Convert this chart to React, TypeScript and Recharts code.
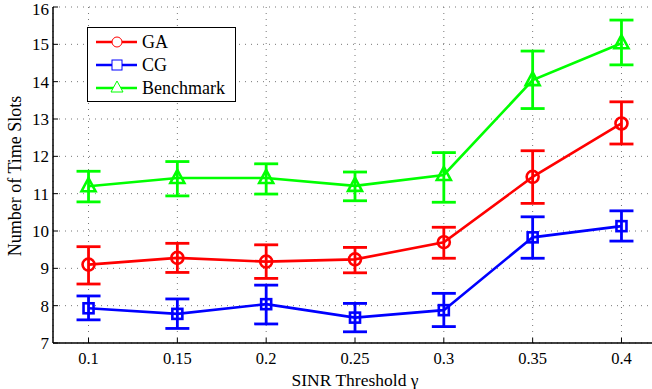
import * as React from "react";
import { CartesianGrid, ComposedChart, ErrorBar, Line, XAxis, YAxis } from "recharts";

const thresholds = [0.1, 0.15, 0.2, 0.25, 0.3, 0.35, 0.4];

const gaMean = [9.1, 9.28, 9.18, 9.24, 9.7, 11.45, 12.88];
const gaLow = [8.58, 8.89, 8.73, 8.88, 9.27, 10.74, 12.33];
const gaHigh = [9.58, 9.67, 9.63, 9.56, 10.1, 12.15, 13.46];

const cgMean = [7.93, 7.78, 8.04, 7.68, 7.88, 9.83, 10.13];
const cgLow = [7.62, 7.39, 7.51, 7.3, 7.44, 9.27, 9.73];
const cgHigh = [8.26, 8.18, 8.55, 8.06, 8.33, 10.38, 10.54];

const bmMean = [11.2, 11.42, 11.42, 11.21, 11.5, 14.04, 15.03];
const bmLow = [10.78, 10.94, 10.99, 10.81, 10.77, 13.28, 14.45];
const bmHigh = [11.6, 11.86, 11.8, 11.58, 12.1, 14.82, 15.65];

const xTicks = [0.1, 0.15, 0.2, 0.25, 0.3, 0.35, 0.4];
const yTicks = [7, 8, 9, 10, 11, 12, 13, 14, 15, 16];

const RED = "#ff0000";
const BLUE = "#0000ff";
const GREEN = "#00ff00";
const FONT = "Liberation Serif, Times New Roman, serif";

const chartData = thresholds.map((x, i) => ({
  x,
  ga: gaMean[i],
  gaErr: [gaMean[i] - gaLow[i], gaHigh[i] - gaMean[i]],
  cg: cgMean[i],
  cgErr: [cgMean[i] - cgLow[i], cgHigh[i] - cgMean[i]],
  bm: bmMean[i],
  bmErr: [bmMean[i] - bmLow[i], bmHigh[i] - bmMean[i]],
}));

type DotProps = { cx?: number; cy?: number; index?: number };

function CircleDot({ cx, cy, index }: DotProps) {
  if (cx == null || cy == null) return null;
  return <circle key={index} cx={cx} cy={cy} r={6} fill="none" stroke={RED} strokeWidth={2.6} />;
}

function SquareDot({ cx, cy, index }: DotProps) {
  if (cx == null || cy == null) return null;
  return (
    <rect key={index} x={cx - 5} y={cy - 5} width={10} height={10} fill="none" stroke={BLUE} strokeWidth={2.6} />
  );
}

function TriangleDot({ cx, cy, index }: DotProps) {
  if (cx == null || cy == null) return null;
  return (
    <polygon
      key={index}
      points={`${cx},${cy - 8} ${cx - 7},${cy + 5} ${cx + 7},${cy + 5}`}
      fill="none"
      stroke={GREEN}
      strokeWidth={2.6}
    />
  );
}

type TickProps = { x?: number; y?: number; payload?: { value: number } };

function XTick({ x = 0, y = 0, payload }: TickProps) {
  return (
    <text x={x} y={y} dy="0.71em" textAnchor="middle" fontFamily={FONT} fontSize={16.5} fill="#000">
      {payload?.value}
    </text>
  );
}

function YTick({ x = 0, y = 0, payload }: TickProps) {
  return (
    <text x={x} y={y} dy="0.355em" textAnchor="end" fontFamily={FONT} fontSize={17} fill="#000">
      {payload?.value}
    </text>
  );
}

const legendItems = [
  { label: "GA", color: RED, marker: "circle" },
  { label: "CG", color: BLUE, marker: "square" },
  { label: "Benchmark", color: GREEN, marker: "triangle" },
];

function LegendBox() {
  return (
    <svg
      width={149}
      height={75}
      style={{ position: "absolute", left: 87, top: 27, display: "block" }}
    >
      <rect x={0.5} y={0.5} width={148} height={74} fill="#fff" stroke="#000" strokeWidth={1} />
      {legendItems.map((item, i) => {
        const y = 15 + i * 23;
        return (
          <g key={item.label}>
            <line x1={9} x2={50} y1={y} y2={y} stroke={item.color} strokeWidth={2.6} />
            {item.marker === "circle" ? (
              <circle cx={30} cy={y} r={5} fill="#fff" stroke={item.color} strokeWidth={1} />
            ) : null}
            {item.marker === "square" ? (
              <rect x={25} y={y - 5} width={10} height={10} fill="#fff" stroke={item.color} strokeWidth={1} />
            ) : null}
            {item.marker === "triangle" ? (
              <polygon
                points={`30,${y - 7} 24,${y + 4} 36,${y + 4}`}
                fill="#fff"
                stroke={item.color}
                strokeWidth={1}
              />
            ) : null}
            <text x={55} y={y + 6} fontFamily={FONT} fontSize={18} fill="#000">
              {item.label}
            </text>
          </g>
        );
      })}
    </svg>
  );
}

export default function App() {
  return (
    <div
      style={{
        position: "absolute",
        left: 0,
        top: 0,
        width: 652,
        height: 389,
        overflow: "hidden",
        background: "#fff",
        fontFamily: FONT,
      }}
    >
      <ComposedChart
        width={660}
        height={389}
        data={chartData}
        margin={{ top: 7, right: 3, bottom: 0, left: 0 }}
      >
        <CartesianGrid stroke="#777" strokeDasharray="1 5" strokeWidth={1} />
        <XAxis
          xAxisId="top"
          orientation="top"
          type="number"
          dataKey="x"
          domain={[0.08, 0.42]}
          ticks={xTicks}
          height={0}
          tickSize={-5}
          tickFormatter={() => ""}
          axisLine={{ stroke: "#000", strokeWidth: 1.5 }}
          tickLine={{ stroke: "#000" }}
        />
        <XAxis
          type="number"
          dataKey="x"
          domain={[0.08, 0.42]}
          ticks={xTicks}
          height={46}
          tickSize={-5}
          tickMargin={14}
          tick={<XTick />}
          axisLine={{ stroke: "#000", strokeWidth: 1.5 }}
          tickLine={{ stroke: "#000" }}
          label={{
            content: () => (
              <text x={355} y={385.5} textAnchor="middle" fontFamily={FONT} fontSize={17.5} fill="#000">
                SINR Threshold γ
              </text>
            ),
          }}
        />
        <YAxis
          type="number"
          domain={[7, 16]}
          ticks={yTicks}
          width={53}
          tickSize={-5}
          tickMargin={9}
          tick={<YTick />}
          axisLine={{ stroke: "#000", strokeWidth: 1.5 }}
          tickLine={{ stroke: "#000" }}
          label={{
            content: () => (
              <text
                x={15}
                y={176}
                transform="rotate(-90 15 176)"
                textAnchor="middle"
                dominantBaseline="central"
                fontFamily={FONT}
                fontSize={18}
                fill="#000"
              >
                Number of Time Slots
              </text>
            ),
          }}
        />
        <Line
          dataKey="ga"
          stroke={RED}
          strokeWidth={2.6}
          dot={<CircleDot />}
          activeDot={false}
          isAnimationActive={false}
        >
          <ErrorBar dataKey="gaErr" direction="y" width={12} stroke={RED} strokeWidth={2.8} />
        </Line>
        <Line
          dataKey="cg"
          stroke={BLUE}
          strokeWidth={2.6}
          dot={<SquareDot />}
          activeDot={false}
          isAnimationActive={false}
        >
          <ErrorBar dataKey="cgErr" direction="y" width={12} stroke={BLUE} strokeWidth={2.8} />
        </Line>
        <Line
          dataKey="bm"
          stroke={GREEN}
          strokeWidth={2.6}
          dot={<TriangleDot />}
          activeDot={false}
          isAnimationActive={false}
        >
          <ErrorBar dataKey="bmErr" direction="y" width={12} stroke={GREEN} strokeWidth={2.8} />
        </Line>
      </ComposedChart>
      <LegendBox />
    </div>
  );
}
